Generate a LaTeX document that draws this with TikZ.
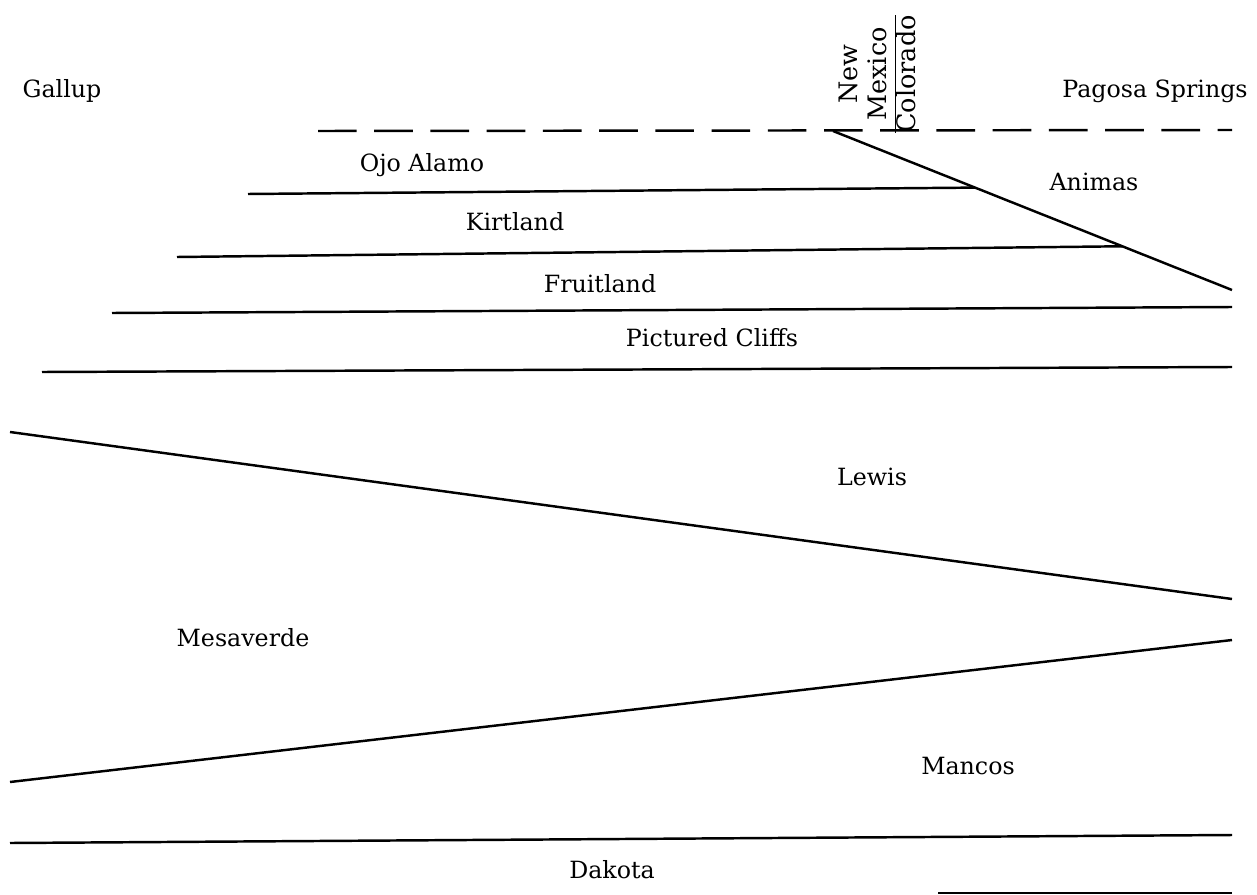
\documentclass[tikz,border=0pt]{standalone}
\usepackage{fontspec}
\setmainfont{DejaVu Serif}
\usetikzlibrary{calc}
\tikzset{
  bed/.style = {line width=1.4pt},
  border/.style = {bed, dash pattern=on 22pt off 10pt},
  unit/.style = {font=\fontsize{13.5}{16}\selectfont, inner sep=0pt}
}

\begin{document}
\begin{tikzpicture}[x=0.02cm,y=-0.02cm]
  \useasboundingbox (0,0) rectangle (1257,895);
  % state line and pinch-out of the Animas
  \coordinate (B1) at (318,131);
  \coordinate (B2) at (1232,130);
  \coordinate (D1) at (833,131);
  \coordinate (D2) at (1232,290);
  \draw[border] (B1) -- (B2);
  \draw[bed] (D1) -- (D2);
  % horizontal contacts
  \coordinate (OA) at (248,194);
  \coordinate (KL) at (177,257);
  \draw[bed] (OA) -- ($(D1)!0.356!(D2)$);
  \draw[bed] (KL) -- ($(D1)!0.725!(D2)$);
  \draw[bed] (112,313) -- (1232,307);
  \draw[bed] (42,372) -- (1232,367);
  % Mesaverde wedge
  \draw[bed] (10,432) -- (1232,599);
  \draw[bed] (10,782) -- (1232,640);
  \draw[bed] (10,843) -- (1232,835);
  \draw[bed] (938,893) -- (1232,893);
  % place names
  \node[unit] (gallup) at (62,91) {Gallup};
  \node[unit] (pagosa) at (1155,91) {Pagosa Springs};
  \node[unit,font=\fontsize{14.5}{17}\selectfont,rotate=90] (state) at (881,74)
    {\renewcommand\arraystretch{0.95}\setlength\tabcolsep{0pt}%
     \begin{tabular}{c}New\\Mexico\\\hline Colorado\end{tabular}};
  % formations
  \node[unit] (ojo) at (422,165) {Ojo Alamo};
  \node[unit] (kirt) at (515,222) {Kirtland};
  \node[unit] (fruit) at (600,284) {Fruitland};
  \node[unit] (pc) at (712,338) {Pictured Cliffs};
  \node[unit] (animas) at (1094,182) {Animas};
  \node[unit] (lewis) at (872,477) {Lewis};
  \node[unit] (mv) at (243,638) {Mesaverde};
  \node[unit] (mancos) at (968,766) {Mancos};
  \node[unit] (dakota) at (612,870) {Dakota};
\end{tikzpicture}
\end{document}
